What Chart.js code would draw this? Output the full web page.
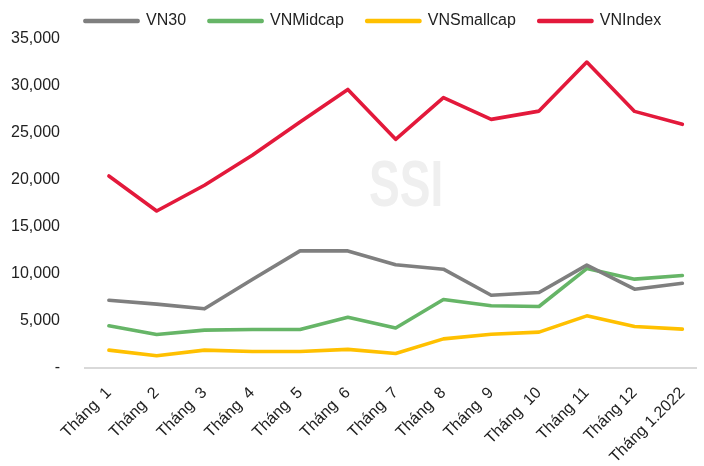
<!DOCTYPE html>
<html>
<head>
<meta charset="utf-8">
<script src="https://cdn.jsdelivr.net/npm/chart.js@4.4.1/dist/chart.umd.min.js"></script>
<style>
  html, body { margin: 0; padding: 0; background: #fff; }
  #wrap { width: 704px; height: 466px; }
</style>
</head>
<body>
<div id="wrap"><canvas id="chart" width="704" height="466"></canvas></div>
<script>
const months = ['Tháng  1', 'Tháng  2', 'Tháng  3', 'Tháng  4', 'Tháng  5', 'Tháng  6', 'Tháng  7',
  'Tháng  8', 'Tháng  9', 'Tháng  10', 'Tháng 11', 'Tháng 12', 'Tháng 1.2022'];
const vn30       = [7180, 6760, 6260, 9380, 12430, 12430, 10960, 10480, 7710, 8000, 10910, 8350, 8990];
const vnMidcap   = [4450, 3530, 3990, 4060, 4060, 5370, 4220, 7260, 6580, 6510, 10550, 9420, 9810];
const vnSmallcap = [1860, 1260, 1860, 1720, 1720, 1940, 1510, 3060, 3560, 3780, 5510, 4380, 4100];
const vnIndex    = [20410, 16680, 19420, 22610, 26150, 29630, 24310, 28750, 26440, 27320, 32540, 27290, 25910];
const yTicks = [0, 5000, 10000, 15000, 20000, 25000, 30000, 35000];

const FONT = '"Liberation Sans", Arial, sans-serif';

function series(label, values, color) {
  return {
    label,
    data: values.map((v, i) => ({ x: i, y: v })),
    borderColor: color,
    backgroundColor: color,
    borderWidth: 3.6,
    borderCapStyle: 'round',
    borderJoinStyle: 'round',
    pointRadius: 0,
    tension: 0
  };
}

// move the legend right, like in the picture
const legendShift = {
  id: 'legendShift',
  afterLayout(chart) {
    chart.legend.left += 62;
    chart.legend.right += 62;
  }
};

// faint "SSI" watermark behind the lines
const watermark = {
  id: 'watermark',
  beforeDatasetsDraw(chart) {
    const { ctx, chartArea } = chart;
    ctx.save();
    ctx.translate(chartArea.left + chartArea.width * 0.525, chartArea.top + chartArea.height * 0.455);
    ctx.scale(0.72, 1);
    ctx.font = 'bold 64px ' + FONT;
    ctx.fillStyle = '#efefef';
    ctx.textAlign = 'center';
    ctx.textBaseline = 'middle';
    ctx.fillText('SSI', 0, 0);
    ctx.restore();
  }
};

new Chart(document.getElementById('chart'), {
  type: 'line',
  data: {
    datasets: [
      series('VN30', vn30, '#7f7f7f'),
      series('VNMidcap', vnMidcap, '#66b567'),
      series('VNSmallcap', vnSmallcap, '#ffc000'),
      series('VNIndex', vnIndex, '#e3193b')
    ]
  },
  options: {
    responsive: false,
    animation: false,
    layout: { padding: { top: -15, right: 2, bottom: -9, left: 0 } },
    plugins: {
      legend: {
        position: 'top',
        align: 'start',
        labels: {
          boxWidth: 53,
          boxHeight: 1,
          padding: 23,
          color: '#222',
          font: { family: FONT, size: 16 }
        }
      },
      tooltip: { enabled: false }
    },
    scales: {
      x: {
        type: 'linear',
        min: -0.5,
        max: 12.3,
        grid: { display: false },
        border: { color: '#d9d9d9', width: 2 },
        ticks: {
          stepSize: 1,
          includeBounds: false,
          autoSkip: false,
          minRotation: 45,
          maxRotation: 45,
          padding: 8,
          color: '#222',
          font: { family: FONT, size: 16 },
          callback: v => months[v] ?? ''
        }
      },
      y: {
        min: yTicks[0],
        max: yTicks[yTicks.length - 1],
        grid: { display: false },
        border: { display: false },
        afterBuildTicks: s => { s.ticks = yTicks.map(v => ({ value: v })); },
        afterFit: s => { s.width = 85; s.paddingTop = 39; },
        ticks: {
          padding: 17,
          color: '#222',
          font: { family: FONT, size: 16 },
          callback: v => v === 0 ? '-' : v.toLocaleString('en-US')
        }
      }
    }
  },
  plugins: [legendShift, watermark]
});
</script>
</body>
</html>
